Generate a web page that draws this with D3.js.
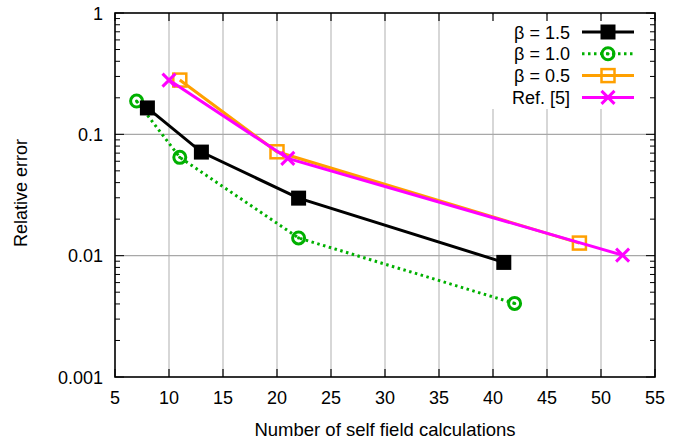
<!DOCTYPE html>
<html><head><meta charset="utf-8">
<script src="https://cdn.jsdelivr.net/npm/d3@7"></script>
<style>body{margin:0;background:#fff}svg{display:block;font-family:"Liberation Sans",Arial,sans-serif}</style>
</head><body><svg id="c" width="684" height="441"></svg>
<script>
const xTicks = [5,10,15,20,25,30,35,40,45,50,55];
const yTicks = [0.001,0.01,0.1,1];
const yTickLabels = ["0.001","0.01","0.1","1"];
const seriesNames = ["β = 1.5","β = 1.0","β = 0.5","Ref. [5]"];
const beta15X = [8,13,22,41];
const beta15Y = [0.165,0.0714,0.0298,0.0088];
const beta10X = [7,11,22,42];
const beta10Y = [0.188,0.0646,0.0140,0.00404];
const beta05X = [11,20,48];
const beta05Y = [0.28,0.0718,0.0127];
const refX = [10,21,52];
const refY = [0.28,0.0634,0.0101];

const FS = 18;
const svg = d3.select("#c");
const L=115,R=655,T=13,B=377;
const x = d3.scaleLinear().domain([5,55]).range([L,R]);
const y = d3.scaleLog().domain([0.001,1]).range([B,T]);
const g = svg.append("g");

// grid
g.selectAll(".vg").data(xTicks.filter(d=>d>5&&d<55)).enter().append("line")
 .attr("x1",d=>x(d)).attr("x2",d=>x(d)).attr("y1",T).attr("y2",B)
 .attr("stroke","#bdbdbd").attr("stroke-width",1.2);
g.selectAll(".hg").data([0.01,0.1]).enter().append("line")
 .attr("x1",L).attr("x2",R).attr("y1",d=>y(d)).attr("y2",d=>y(d))
 .attr("stroke","#a8a8a8").attr("stroke-width",1.2);

// legend background
g.append("rect").attr("x",490).attr("y",T+2).attr("width",R-490-2).attr("height",94).attr("fill","#fff");

// ticks
const minor=[];
[0.001,0.01,0.1].forEach(b=>{for(let k=2;k<=9;k++)minor.push(b*k);});
const tk = svg.append("g");
tk.selectAll(".ml").data(minor).enter().append("line")
 .attr("x1",L).attr("x2",L+5).attr("y1",d=>y(d)).attr("y2",d=>y(d)).attr("stroke","#000");
tk.selectAll(".mr").data(minor).enter().append("line")
 .attr("x1",R).attr("x2",R-5).attr("y1",d=>y(d)).attr("y2",d=>y(d)).attr("stroke","#000");
tk.selectAll(".Ml").data(yTicks).enter().append("line")
 .attr("x1",L).attr("x2",L+9).attr("y1",d=>y(d)).attr("y2",d=>y(d)).attr("stroke","#000");
tk.selectAll(".Mr").data(yTicks).enter().append("line")
 .attr("x1",R).attr("x2",R-9).attr("y1",d=>y(d)).attr("y2",d=>y(d)).attr("stroke","#000");
tk.selectAll(".Xb").data(xTicks).enter().append("line")
 .attr("x1",d=>x(d)).attr("x2",d=>x(d)).attr("y1",B).attr("y2",B-8).attr("stroke","#000").attr("stroke-width",1.2);
tk.selectAll(".Xt").data(xTicks).enter().append("line")
 .attr("x1",d=>x(d)).attr("x2",d=>x(d)).attr("y1",T).attr("y2",T+8).attr("stroke","#000").attr("stroke-width",1.2);

// frame
svg.append("rect").attr("x",L).attr("y",T).attr("width",R-L).attr("height",B-T)
 .attr("fill","none").attr("stroke","#000").attr("stroke-width",1.6);

// tick labels
svg.selectAll(".xl").data(xTicks).enter().append("text")
 .attr("x",d=>x(d)).attr("y",403.5).attr("text-anchor","middle").attr("font-size",FS).text(d=>d);
svg.selectAll(".yl").data(yTicks).enter().append("text")
 .attr("x",103).attr("y",d=>y(d)+6.5).attr("text-anchor","end").attr("font-size",FS).text((d,i)=>yTickLabels[i]);

// titles
svg.append("text").attr("x",(L+R)/2).attr("y",435.5).attr("text-anchor","middle").attr("font-size",18.5)
 .text("Number of self field calculations");
svg.append("text").attr("transform","translate(27,193) rotate(-90)").attr("text-anchor","middle").attr("font-size",FS)
 .text("Relative error");

const line = d3.line().x(d=>x(d[0])).y(d=>y(d[1]));
const zip=(a,b)=>a.map((v,i)=>[v,b[i]]);
const s15=zip(beta15X,beta15Y), s10=zip(beta10X,beta10Y), s05=zip(beta05X,beta05Y), sref=zip(refX,refY);

function marker(sel,type,cx,cy){
 if(type==="sq"){
  sel.append("rect").attr("x",cx-7.5).attr("y",cy-7.5).attr("width",15).attr("height",15).attr("fill","#000");
 } else if(type==="circ"){
  sel.append("circle").attr("cx",cx).attr("cy",cy).attr("r",6).attr("fill","none").attr("stroke","#00b000").attr("stroke-width",3);
  sel.append("circle").attr("cx",cx).attr("cy",cy).attr("r",1.6).attr("fill","#00b000");
 } else if(type==="osq"){
  sel.append("rect").attr("x",cx-6.5).attr("y",cy-6.5).attr("width",13).attr("height",13).attr("fill","none").attr("stroke","#ffa000").attr("stroke-width",2.5);
 } else {
  sel.append("path").attr("d",`M${cx-6.5},${cy-6.5}L${cx+6.5},${cy+6.5}M${cx-6.5},${cy+6.5}L${cx+6.5},${cy-6.5}`)
   .attr("stroke","#ff00ff").attr("stroke-width",3);
 }
}
const styles=[
 {data:s10,color:"#00b000",dash:"2.5,3.5",m:"circ"},
 {data:s15,color:"#000",dash:null,m:"sq"},
 {data:s05,color:"#ffa000",dash:null,m:"osq"},
 {data:sref,color:"#ff00ff",dash:null,m:"x"}
];
const pg=svg.append("g");
styles.forEach(s=>{
 pg.append("path").attr("d",line(s.data)).attr("fill","none").attr("stroke",s.color).attr("stroke-width",3)
  .attr("stroke-dasharray",s.dash);
 s.data.forEach(d=>marker(pg,s.m,x(d[0]),y(d[1])));
});

// legend
const legOrder=[{c:"#000",dash:null,m:"sq"},{c:"#00b000",dash:"2.5,3.5",m:"circ"},{c:"#ffa000",dash:null,m:"osq"},{c:"#ff00ff",dash:null,m:"x"}];
const lg=svg.append("g");
seriesNames.forEach((n,i)=>{
 const yy=32+i*21.8;
 lg.append("text").attr("x",570).attr("y",yy+6.5).attr("text-anchor","end").attr("font-size",FS).text(n);
 lg.append("line").attr("x1",582).attr("x2",634).attr("y1",yy).attr("y2",yy).attr("stroke",legOrder[i].c)
  .attr("stroke-width",3).attr("stroke-dasharray",legOrder[i].dash);
 marker(lg,legOrder[i].m,608,yy);
});
</script></body></html>
